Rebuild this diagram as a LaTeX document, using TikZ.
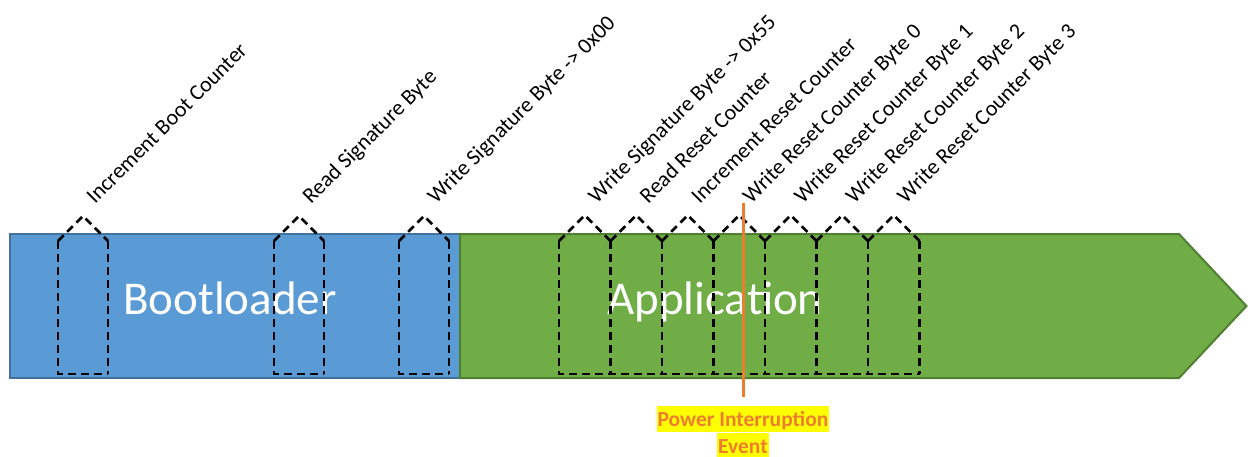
\documentclass[tikz,border=0pt]{standalone}
\usepackage{fontspec}
\setmainfont{Carlito}
\definecolor{blfill}{HTML}{5B9BD5}
\definecolor{bldraw}{HTML}{41719C}
\definecolor{grfill}{HTML}{70AD47}
\definecolor{grdraw}{HTML}{507E32}
\definecolor{evorange}{HTML}{ED7D31}
\definecolor{hilite}{HTML}{FFFF00}
\tikzset{
  phase/.style={line width=2pt, line join=miter},
  phasetext/.style={text=white, font=\fontsize{47}{56}\selectfont, inner sep=0pt, anchor=base},
  stepbox/.style={draw=black, line width=2.5pt, dash pattern=on 8pt off 5pt},
  steplabel/.style={rotate=45, anchor=base west, inner sep=0pt, font=\fontsize{22}{27}\selectfont},
  evline/.style={draw=evorange, line width=3pt},
  evtext/.style={fill=hilite, text=evorange, font=\bfseries\fontsize{21.5}{26}\selectfont,
    inner xsep=1pt, inner ysep=0pt, text height=20pt, text depth=6pt, anchor=base},
}
\begin{document}
\begin{tikzpicture}[x=1pt, y=-1pt]
\useasboundingbox (0,0) rectangle (1248,456);

% the two phases of the start-up timeline
\path[phase, fill=blfill, draw=bldraw] (10,234) rectangle (460,378);
\path[phase, fill=grfill, draw=grdraw] (460,234) -- (1179,234) -- (1246.5,306) -- (1179,378) -- (460,378) -- cycle;
\node[phasetext] (boot) at (230,314) {Bootloader};
\node[phasetext] (app) at (715,314) {Application};

% individual memory operations: side walls are drawn top-down so that
% walls shared by neighbouring operations keep the same dash phase
\foreach \l/\w/\n/\t in {
  58/50/s1/Increment Boot Counter,
  274/50/s2/Read Signature Byte,
  399/50/s3/Write Signature Byte -> 0x00,
  559/51.5/s4/Write Signature Byte -> 0x55,
  610.5/51.5/s5/Read Reset Counter,
  662/51.5/s6/Increment Reset Counter,
  713.5/51.5/s7/Write Reset Counter Byte 0,
  765/51.5/s8/Write Reset Counter Byte 1,
  816.5/51.5/s9/Write Reset Counter Byte 2,
  868/51.5/s10/Write Reset Counter Byte 3}{
  \coordinate (pk\n) at ({\l+\w/2},{241-\w/2});
  \draw[stepbox] (\l,241) -- (pk\n) -- ({\l+\w},241);
  \draw[stepbox] (\l,241) -- (\l,374) -- ({\l+\w},374);
  \draw[stepbox] ({\l+\w},241) -- ({\l+\w},374);
  \node[steplabel] (lb\n) at ([shift={(12,-11)}]pk\n) {\t};
}

% power interruption marker
\node[evtext] (pw1) at (743,426) {Power Interruption};
\node[evtext] (pw2) at (743,453) {Event};
\coordinate (evtop) at (743,203);
\draw[evline] (evtop) -- ([yshift=9pt]pw1.north);
\end{tikzpicture}
\end{document}
